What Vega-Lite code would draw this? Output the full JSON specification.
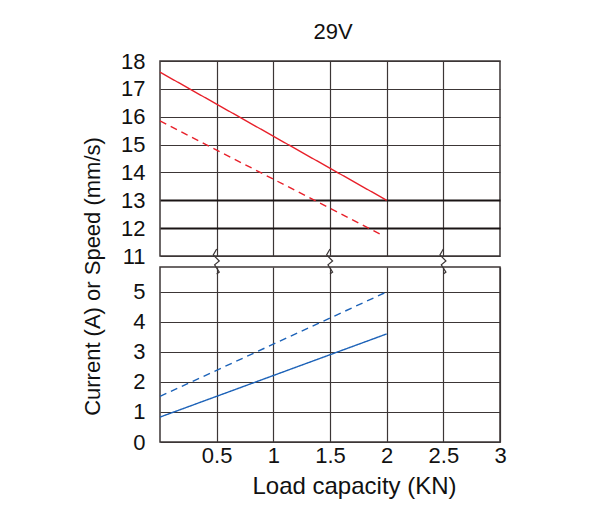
{
  "$schema": "https://vega.github.io/schema/vega-lite/v6.json",
  "padding": {"left": 80, "top": 20, "right": 5, "bottom": 5},
  "bounds": "flush",
  "spacing": 11,
  "config": {
    "font": "Liberation Sans",
    "view": {"stroke": "#3c3636", "strokeWidth": 1.5},
    "axis": {"gridColor": "#3c3636", "gridOpacity": 1, "gridWidth": 1.2, "domain": false, "ticks": false, "labelFontSize": 22, "labelColor": "#111", "titleColor": "#111", "titleFontWeight": "normal", "labelOverlap": false, "labelFlush": false},
    "line": {"strokeWidth": 1.4}
  },
  "datasets": {
    "speed": [
      {"load": 0, "value": 17.6, "variant": "1"},
      {"load": 2, "value": 13.0, "variant": "1"},
      {"load": 0, "value": 15.85, "variant": "2"},
      {"load": 1.96, "value": 11.75, "variant": "2"}
    ],
    "current": [
      {"load": 0, "value": 0.83, "variant": "1"},
      {"load": 2, "value": 3.6, "variant": "1"},
      {"load": 0, "value": 1.52, "variant": "2"},
      {"load": 2, "value": 5.0, "variant": "2"}
    ],
    "breaks": [
      {"bx": 0.5, "by": 6.43, "g": "a", "o": 1},
      {"bx": 0.47, "by": 6.23, "g": "a", "o": 2},
      {"bx": 0.523, "by": 6.03, "g": "a", "o": 3},
      {"bx": 0.482, "by": 5.9, "g": "a", "o": 4},
      {"bx": 0.523, "by": 5.66, "g": "a", "o": 5},
      {"bx": 0.5, "by": 5.6, "g": "a", "o": 6},
      {"bx": 1.5, "by": 6.43, "g": "b", "o": 1},
      {"bx": 1.47, "by": 6.23, "g": "b", "o": 2},
      {"bx": 1.523, "by": 6.03, "g": "b", "o": 3},
      {"bx": 1.482, "by": 5.9, "g": "b", "o": 4},
      {"bx": 1.523, "by": 5.66, "g": "b", "o": 5},
      {"bx": 1.5, "by": 5.6, "g": "b", "o": 6},
      {"bx": 2.5, "by": 6.43, "g": "c", "o": 1},
      {"bx": 2.47, "by": 6.23, "g": "c", "o": 2},
      {"bx": 2.523, "by": 6.03, "g": "c", "o": 3},
      {"bx": 2.482, "by": 5.9, "g": "c", "o": 4},
      {"bx": 2.523, "by": 5.66, "g": "c", "o": 5},
      {"bx": 2.5, "by": 5.6, "g": "c", "o": 6}
    ]
  },
  "vconcat": [
    {
      "width": 340,
      "height": 195,
      "title": {"text": "29V", "fontSize": 22, "fontWeight": "normal", "frame": "group", "baseline": "alphabetic", "offset": -11, "dx": 3, "color": "#111"},
      "data": {"name": "speed"},
      "mark": {"type": "line", "color": "#e8202a"},
      "encoding": {
        "x": {"field": "load", "type": "quantitative", "scale": {"domain": [0, 3], "nice": false},
              "axis": {"values": [0.5, 1, 1.5, 2, 2.5], "labels": false, "title": null}},
        "y": {"field": "value", "type": "quantitative", "scale": {"domain": [11, 18], "nice": false, "zero": false},
              "axis": {"values": [11, 12, 13, 14, 15, 16, 17, 18], "title": null, "labelPadding": 15,
                       "gridWidth": {"condition": {"test": "datum.value == 12 || datum.value == 13", "value": 2.2}, "value": 1.2},
                       "gridColor": {"condition": {"test": "datum.value == 12 || datum.value == 13", "value": "#1a1414"}, "value": "#3c3636"}}},
        "strokeDash": {"field": "variant", "type": "nominal", "scale": {"domain": ["1", "2"], "range": [[1, 0], [7, 5]]}, "legend": null}
      }
    },
    {
      "width": 340,
      "height": 175,
      "layer": [
        {
          "data": {"name": "current"},
          "mark": {"type": "line", "color": "#1c62b8"},
          "encoding": {
            "x": {"field": "load", "type": "quantitative", "scale": {"domain": [0, 3], "nice": false},
                  "axis": {"values": [0.5, 1, 1.5, 2, 2.5, 3], "format": "~g", "labelPadding": 3, "labelOverlap": false, "title": "Load capacity  (KN)",
                           "titleFontSize": 24, "titleX": 194, "titleY": 51, "titleBaseline": "alphabetic", "titleAlign": "center"}},
            "y": {"field": "value", "type": "quantitative", "scale": {"domain": [0, 5.83], "nice": false},
                  "axis": {"values": [0, 1, 2, 3, 4, 5], "labelPadding": 15, "labelOverlap": false, "labelBound": false, "title": "Current (A) or Speed (mm/s)",
                           "titleFontSize": 22, "titleX": -61, "titleY": 9, "titleBaseline": "alphabetic", "titleAlign": "center"}},
            "strokeDash": {"field": "variant", "type": "nominal", "scale": {"domain": ["1", "2"], "range": [[1, 0], [7, 5]]}, "legend": null}
          }
        },
        {
          "data": {"name": "breaks"},
          "mark": {"type": "line", "color": "#3c3636", "strokeWidth": 1.2, "clip": false},
          "encoding": {
            "x": {"field": "bx", "type": "quantitative"},
            "y": {"field": "by", "type": "quantitative", "axis": {"values": [0, 1, 2, 3, 4, 5], "labelOverlap": false}},
            "detail": {"field": "g"},
            "order": {"field": "o", "type": "quantitative"}
          }
        }
      ]
    }
  ]
}
